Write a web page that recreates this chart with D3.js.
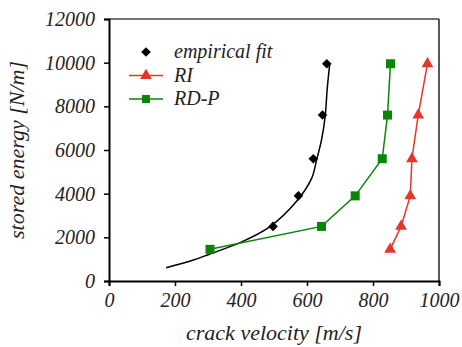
<!DOCTYPE html>
<html>
<head>
<script src="https://cdn.jsdelivr.net/npm/d3@7"></script>
</head>
<body style="margin:0">
<div id="chart"></div>
<script>
// crack velocity [m/s] vs stored energy [N/m]
const empiricalV = [497, 574, 619, 647, 660];
const empiricalE = [2500, 3900, 5600, 7600, 9950];

const fitV = [173, 256, 306, 397, 488, 569, 614, 629, 644, 655, 661, 668, 669];
const fitE = [610, 960, 1240, 1755, 2490, 3660, 4700, 5540, 6460, 7530, 8750, 9820, 9950];

const riV = [852, 885, 913, 918, 937, 965];
const riE = [1450, 2500, 3900, 5600, 7600, 9950];

const rdpV = [306, 644, 746, 828, 844, 853];
const rdpE = [1450, 2500, 3900, 5600, 7600, 9950];

const xTicks = [0, 200, 400, 600, 800, 1000];
const yTicks = [0, 2000, 4000, 6000, 8000, 10000, 12000];

const width = 462, height = 347;
const margin = { top: 19, right: 23, bottom: 66, left: 109 };

const svg = d3.select('#chart').append('svg')
  .attr('width', width)
  .attr('height', height);

const x = d3.scaleLinear().domain([0, 1000]).range([margin.left, width - margin.right]);
const y = d3.scaleLinear().domain([0, 12000]).range([height - margin.bottom, margin.top]);

const green = '#0a850a';
const red = '#e5362b';

// frame (top / right)
svg.append('line')
  .attr('x1', x(0)).attr('x2', x(1000))
  .attr('y1', y(12000)).attr('y2', y(12000))
  .attr('stroke', '#444').attr('stroke-width', 1.5);
svg.append('line')
  .attr('x1', x(1000)).attr('x2', x(1000))
  .attr('y1', y(12000)).attr('y2', y(0))
  .attr('stroke', '#222').attr('stroke-width', 1.5);

// axes
const xAxis = svg.append('g')
  .attr('transform', `translate(0,${y(0)})`)
  .call(d3.axisBottom(x).tickValues(xTicks).tickSize(5).tickPadding(7).tickFormat(d3.format('d')));
const yAxis = svg.append('g')
  .attr('transform', `translate(${x(0)},0)`)
  .call(d3.axisLeft(y).tickValues(yTicks).tickSize(5).tickPadding(9).tickFormat(d3.format('d')));

[xAxis, yAxis].forEach(a => {
  a.select('.domain').attr('stroke', '#000').attr('stroke-width', 2);
  a.selectAll('.tick line').attr('stroke', '#000').attr('stroke-width', 1.5);
  a.selectAll('.tick text').attr('font-size', 20).attr('fill', '#222');
});

// axis titles
svg.append('text')
  .attr('x', (x(0) + x(1000)) / 2)
  .attr('y', 340)
  .attr('text-anchor', 'middle')
  .attr('font-size', 22)
  .attr('fill', '#222')
  .text('crack velocity [m/s]');

svg.append('text')
  .attr('transform', `translate(24,${(y(0) + y(12000)) / 2}) rotate(-90)`)
  .attr('text-anchor', 'middle')
  .attr('font-size', 22)
  .attr('fill', '#222')
  .text('stored energy [N/m]');

// empirical fit curve
const fitLine = d3.line()
  .x(i => x(fitV[i]))
  .y(i => y(fitE[i]))
  .curve(d3.curveCatmullRom);
svg.append('path')
  .attr('d', fitLine(d3.range(fitV.length)))
  .attr('fill', 'none')
  .attr('stroke', '#000')
  .attr('stroke-width', 1.5);

const seriesLine = (vs, es) => d3.line().x(i => x(vs[i])).y(i => y(es[i]))(d3.range(vs.length));

// RD-P
svg.append('path')
  .attr('d', seriesLine(rdpV, rdpE))
  .attr('fill', 'none').attr('stroke', green).attr('stroke-width', 1.5);
svg.selectAll('.rdp').data(d3.range(rdpV.length)).enter()
  .append('rect')
  .attr('x', i => x(rdpV[i]) - 4.5)
  .attr('y', i => y(rdpE[i]) - 4.5)
  .attr('width', 9).attr('height', 9)
  .attr('fill', green);

// RI
svg.append('path')
  .attr('d', seriesLine(riV, riE))
  .attr('fill', 'none').attr('stroke', red).attr('stroke-width', 1.5);
const tri = d3.symbol().type(d3.symbolTriangle).size(60);
svg.selectAll('.ri').data(d3.range(riV.length)).enter()
  .append('path')
  .attr('d', tri)
  .attr('transform', i => `translate(${x(riV[i])},${y(riE[i])})`)
  .attr('fill', red);

// empirical diamonds
svg.selectAll('.emp').data(d3.range(empiricalV.length)).enter()
  .append('rect')
  .attr('x', -3.4).attr('y', -3.4)
  .attr('width', 6.8).attr('height', 6.8)
  .attr('transform', i => `translate(${x(empiricalV[i])},${y(empiricalE[i])}) rotate(45)`)
  .attr('fill', '#000');

// legend
const legend = svg.append('g').attr('class', 'legend');
const legendItems = [
  { label: 'empirical fit', kind: 'diamond', color: '#000' },
  { label: 'RI', kind: 'triangle', color: red },
  { label: 'RD-P', kind: 'square', color: green }
];
legendItems.forEach((d, i) => {
  const cy = 52 + i * 23.5;
  const g = legend.append('g').attr('transform', `translate(146,${cy})`);
  if (d.kind !== 'diamond') {
    g.append('line').attr('x1', -17).attr('x2', 17).attr('y1', 0).attr('y2', 0)
      .attr('stroke', d.color).attr('stroke-width', 1.5);
  }
  if (d.kind === 'diamond') {
    g.append('rect').attr('x', -3.4).attr('y', -3.4).attr('width', 6.8).attr('height', 6.8)
      .attr('transform', 'rotate(45)').attr('fill', d.color);
  } else if (d.kind === 'triangle') {
    g.append('path').attr('d', tri).attr('fill', d.color);
  } else {
    g.append('rect').attr('x', -4).attr('y', -4).attr('width', 8).attr('height', 8).attr('fill', d.color);
  }
  g.append('text')
    .attr('x', 28)
    .attr('y', 6)
    .attr('font-size', 20)
    .attr('fill', '#222')
    .text(d.label);
});

// serif italic for every label
svg.selectAll('text')
  .attr('font-family', 'Liberation Serif')
  .attr('font-style', 'italic');
</script>
</body>
</html>
